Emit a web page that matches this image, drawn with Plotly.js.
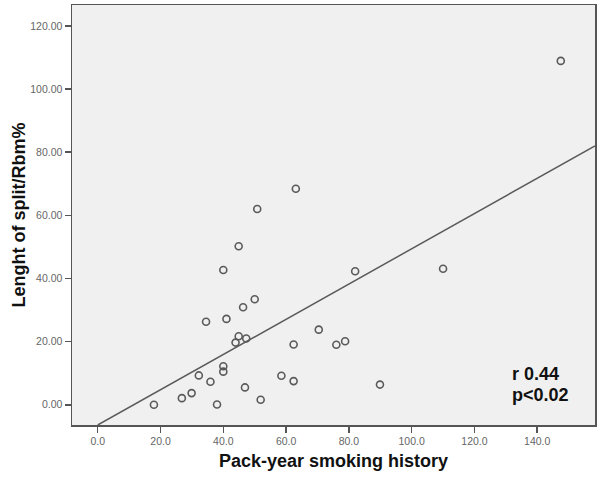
<!DOCTYPE html>
<html>
<head>
<meta charset="utf-8">
<script src="https://cdn.plot.ly/plotly-3.0.1.min.js"></script>
<style>html,body{margin:0;padding:0;background:#fff;}#chart{width:600px;height:481px;}</style>
</head>
<body>
<div id="chart"></div>
<script>
// Pack-year smoking history (x) vs length of split / Rbm % (y)
var packYears = [63.1, 50.8, 44.9, 40.0, 50.0, 46.3, 34.5, 41.0, 70.4, 44.9, 47.3, 43.9, 62.4, 40.0, 40.0, 32.2, 58.5, 35.9, 62.4, 29.9, 26.8, 46.9, 51.9, 17.9, 38.0, 82.0, 110.0, 76.0, 78.8, 89.9, 147.5];
var splitLength = [68.4, 62.0, 50.2, 42.7, 33.4, 30.9, 26.3, 27.2, 23.8, 21.7, 21.0, 19.7, 19.1, 12.2, 10.5, 9.3, 9.2, 7.3, 7.5, 3.7, 2.1, 5.5, 1.6, 0.0, 0.1, 42.3, 43.1, 19.0, 20.1, 6.4, 108.9];

// Linear fit line (as drawn in the reference)
var fitIntercept = -6.4;
var fitSlope = 0.558;
var fitX = [0, 158.4];
var fitY = fitX.map(function (x) { return fitIntercept + fitSlope * x; });

var xTicks = [0, 20, 40, 60, 80, 100, 120, 140];
var yTicks = [0, 20, 40, 60, 80, 100, 120];
var statsLines = ["r 0.44", "p&lt;0.02"];

var tickFont = {family: "Liberation Sans, Arial, sans-serif", size: 10.5, color: "#666"};
var titleFont = {family: "Liberation Sans, Arial, sans-serif", size: 18, color: "#111", weight: "bold"};

var traces = [
  {
    x: fitX, y: fitY, type: "scatter", mode: "lines",
    line: {color: "#5a5a5a", width: 1.5},
    hoverinfo: "skip", showlegend: false
  },
  {
    x: packYears, y: splitLength, type: "scatter", mode: "markers",
    marker: {symbol: "circle-open", size: 7, color: "#5a5a5a", line: {width: 1.6, color: "#5a5a5a"}},
    showlegend: false
  }
];

var layout = {
  width: 600, height: 481,
  margin: {l: 72, r: 5, t: 5, b: 56},
  paper_bgcolor: "#ffffff",
  plot_bgcolor: "#f0f0f0",
  showlegend: false,
  xaxis: {
    range: [-8.2, 158.4],
    tickvals: xTicks,
    ticktext: xTicks.map(function (v) { return v.toFixed(1); }),
    ticks: "outside", ticklen: 6, tickwidth: 1.5, tickcolor: "#555",
    showgrid: false, zeroline: false,
    showline: true, linecolor: "#555", linewidth: 1.5, mirror: true,
    tickfont: tickFont,
    title: {text: "Pack-year smoking history", font: titleFont, standoff: 8}
  },
  yaxis: {
    range: [-6.4, 126.6],
    tickvals: yTicks,
    ticktext: yTicks.map(function (v) { return v.toFixed(2); }),
    ticks: "outside", ticklen: 6, tickwidth: 1.5, tickcolor: "#555",
    showgrid: false, zeroline: false,
    showline: true, linecolor: "#555", linewidth: 1.5, mirror: true,
    tickfont: tickFont,
    title: {text: "Lenght of split/Rbm%", font: titleFont, standoff: 0}
  },
  annotations: [
    {x: 131.3, y: 13.7, xref: "x", yref: "y", text: statsLines[0], showarrow: false,
     xanchor: "left", yanchor: "top", font: {family: "Liberation Sans, Arial, sans-serif", size: 18, color: "#111", weight: "bold"}},
    {x: 131.3, y: 6.8, xref: "x", yref: "y", text: statsLines[1], showarrow: false,
     xanchor: "left", yanchor: "top", font: {family: "Liberation Sans, Arial, sans-serif", size: 18, color: "#111", weight: "bold"}}
  ]
};

Plotly.newPlot("chart", traces, layout, {displayModeBar: false, staticPlot: true});
</script>
</body>
</html>
